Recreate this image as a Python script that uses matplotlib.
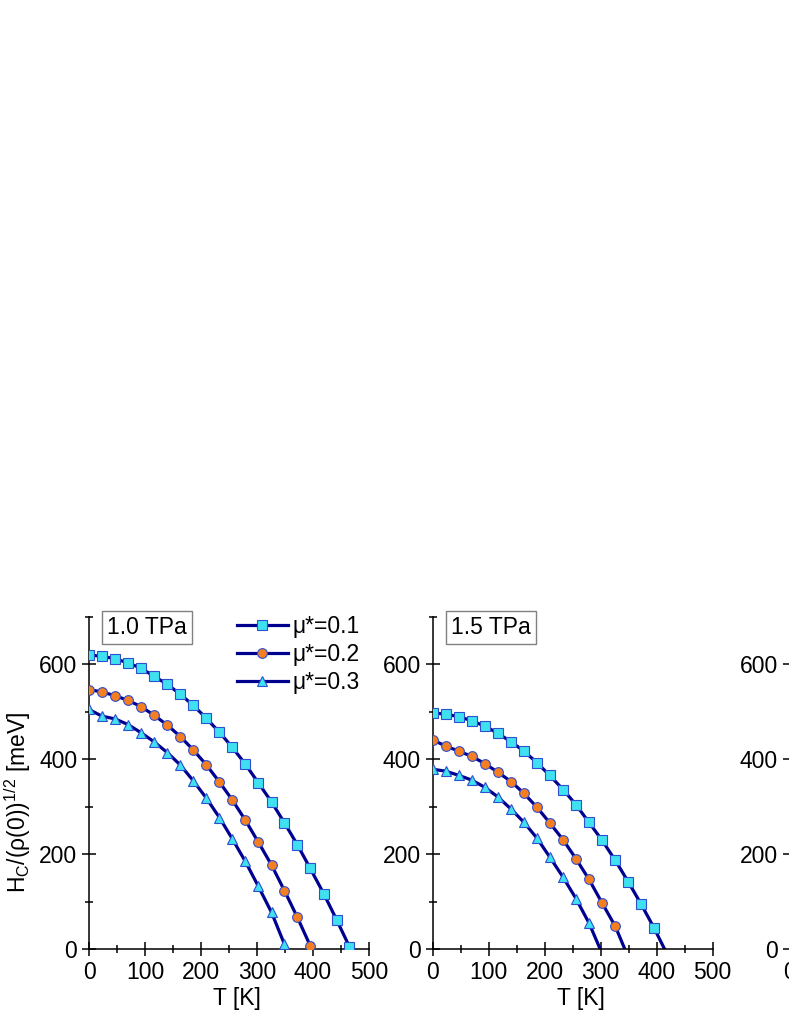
import matplotlib
matplotlib.use("Agg")
import matplotlib.pyplot as plt
from matplotlib.ticker import MultipleLocator

plt.rcParams["font.family"] = ["Liberation Sans", "DejaVu Sans"]
plt.rcParams["mathtext.fontset"] = "custom"
plt.rcParams["mathtext.rm"] = "Liberation Sans"

# ---------------- data ----------------
# 1.0 TPa
t1_a = [0, 23, 47, 70, 93, 116, 140, 163, 186, 209, 233, 256, 279, 302, 326, 349, 372, 395, 419, 442, 465]
h1_a = [620, 617, 612, 603, 592, 575, 558, 537, 514, 487, 457, 425, 390, 351, 310, 266, 220, 170, 117, 62, 5]
t1_b = [0, 23, 47, 70, 93, 116, 140, 163, 186, 209, 233, 256, 279, 302, 326, 349, 372, 395]
h1_b = [547, 542, 534, 524, 511, 493, 472, 448, 420, 389, 352, 314, 272, 226, 177, 123, 67, 7]
t1_c = [0, 23, 47, 70, 93, 116, 140, 163, 186, 209, 233, 256, 279, 302, 326, 349]
h1_c = [505, 491, 485, 473, 456, 437, 414, 388, 355, 319, 277, 232, 185, 133, 77, 10]
tc1 = [467, 397, 351]

# 1.5 TPa
t2_a = [0, 23, 47, 70, 93, 116, 140, 163, 186, 209, 233, 256, 279, 302, 326, 349, 372, 395]
h2_a = [498, 495, 490, 481, 470, 455, 437, 417, 393, 366, 336, 304, 267, 230, 187, 142, 95, 45]
t2_b = [0, 23, 47, 70, 93, 116, 140, 163, 186, 209, 233, 256, 279, 302, 326]
h2_b = [441, 428, 417, 406, 391, 373, 353, 328, 299, 266, 230, 190, 147, 98, 48]
t2_c = [0, 23, 47, 70, 93, 116, 140, 163, 186, 209, 233, 256, 279]
h2_c = [379, 375, 366, 356, 341, 321, 295, 267, 234, 194, 151, 106, 55]
tc2 = [414, 343, 299]

labels = ["\u03bc*=0.1", "\u03bc*=0.2", "\u03bc*=0.3"]
pressures = ["1.0 TPa", "1.5 TPa"]

line_col = "#000090"
edge_col = "#2f4fd0"
styles = [
    dict(marker="s", mfc="#3fe0f0", ms=6.5),
    dict(marker="o", mfc="#f57f20", ms=7),
    dict(marker="^", mfc="#3fe0f0", ms=7.5),
]

FS = 16.5


def style_axis(ax, minor_dir="inout"):
    for s in ["top", "right"]:
        ax.spines[s].set_visible(False)
    for s in ["left", "bottom"]:
        ax.spines[s].set_linewidth(1.1)
    ax.set_xlim(0, 500)
    ax.set_ylim(0, 700)
    ax.xaxis.set_major_locator(MultipleLocator(100))
    ax.xaxis.set_minor_locator(MultipleLocator(50))
    ax.yaxis.set_major_locator(MultipleLocator(200))
    ax.yaxis.set_minor_locator(MultipleLocator(100))
    ax.tick_params(which="major", direction="inout", length=10, width=1.1,
                   labelsize=FS, pad=3.5)
    ax.tick_params(which="minor", direction=minor_dir, length=6, width=1.1)
    ax.set_xlabel("T [K]", fontsize=FS)
    ax.xaxis.set_label_coords(0.53, -0.114)


def draw_panel(ax, ts, hs, tcs, title):
    handles = []
    for t, h, tc, st, lab in zip(ts, hs, tcs, styles, labels):
        ax.plot(list(t) + [tc], list(h) + [0], color=line_col, lw=2.3, zorder=2)
        ax.plot(t, h, ls="none", marker=st["marker"], ms=st["ms"],
                mfc=st["mfc"], mec=edge_col, mew=0.8, zorder=3)
        hd, = ax.plot([], [], color=line_col, lw=2.3, marker=st["marker"],
                      ms=st["ms"], mfc=st["mfc"], mec=edge_col, mew=0.8)
        handles.append(hd)
    ax.text(104, 678, title, fontsize=FS, ha="center", va="center",
            bbox=dict(boxstyle="square,pad=0.22", fc="white", ec="#808080", lw=1))
    style_axis(ax)
    return handles


fig = plt.figure(figsize=(7.89, 10.21), dpi=100)
ax1 = fig.add_axes([89 / 789, 72 / 1021, 280 / 789, 332 / 1021])
ax2 = fig.add_axes([432.7 / 789, 72 / 1021, 280 / 789, 332 / 1021])
ax3 = fig.add_axes([789.5 / 789, 72 / 1021, 280 / 789, 332 / 1021])

h = draw_panel(ax1, [t1_a, t1_b, t1_c], [h1_a, h1_b, h1_c], tc1, pressures[0])
draw_panel(ax2, [t2_a, t2_b, t2_c], [h2_a, h2_b, h2_c], tc2, pressures[1])
style_axis(ax3, minor_dir="in")

ax1.set_ylabel("H$_\\mathregular{C}$/(\u03c1(0))$^\\mathregular{1/2}$ [meV]", fontsize=FS)
ax1.yaxis.set_label_coords(-0.2, 0.443)

ax1.legend(h, labels, loc="upper left", bbox_to_anchor=(0.529, 1.005),
           frameon=False, fontsize=FS, handlelength=2.2, handletextpad=0.2,
           labelspacing=0.22, borderpad=0, borderaxespad=0)

fig.savefig("out.png", dpi=100)
